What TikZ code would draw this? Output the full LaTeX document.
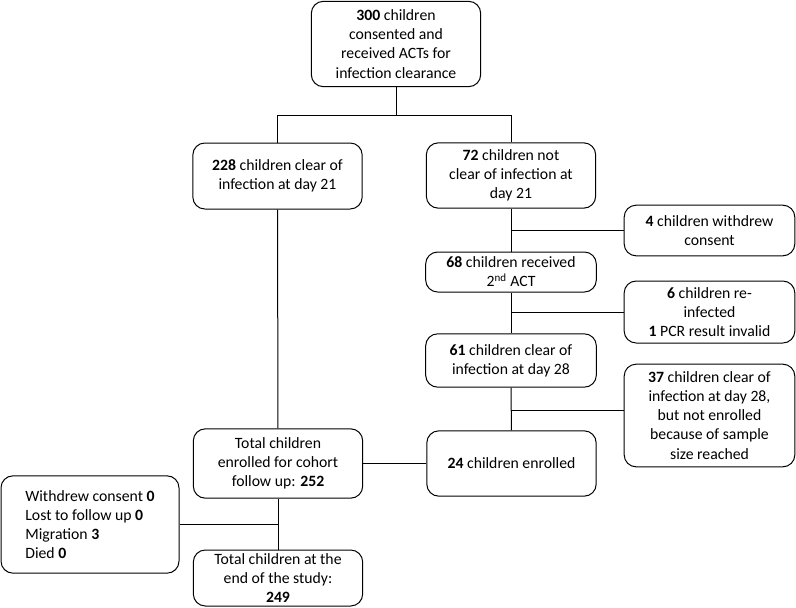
\documentclass[tikz,border=0pt]{standalone}
\usepackage{fontspec}
\setmainfont{Carlito}
\usetikzlibrary{positioning}

\begin{document}
\begin{tikzpicture}[
            x = 0.75pt, y = -0.75pt, % pixel grid of the reference
            line width = 0.75pt, % line style
            font = \fontsize{11.8}{14.3}\selectfont
        ]

        \tikzstyle{box}=[
            draw,
            rounded corners = 9pt,
            align = center,
            inner sep = 2pt,
            minimum width = 127pt
        ]

        \useasboundingbox (0,0) rectangle (796,607);

	% screening
        \node[box, minimum height = 64pt] (T) at (396,44)
            {\textbf{300} children\\consented and\\received ACTs for\\infection clearance};

	% day 21
        \node[box, minimum height = 49.5pt] (CL) at (277.5,176)
            {\textbf{228} children clear of\\infection at day 21};
        \node[box, minimum height = 49pt] (NC) at (511,175.5)
            {\textbf{72} children not\\clear of infection at\\day 21};

        \coordinate (J1) at (396,115);
        \draw (T) -- (J1);
        \draw (CL.north) |- (J1);
        \draw (NC.north) |- (J1);

	% second treatment
        \node[box, minimum width = 128pt, minimum height = 38pt] (WD) at (709.5,230.5)
            {\textbf{4} children withdrew\\consent};
        \node[box, minimum width = 128pt, minimum height = 30pt] (RC) at (511,272)
            {\textbf{68} children received\\2\textsuperscript{nd} ACT};

        \draw (NC) -- (RC);
        \coordinate (J2) at (NC |- WD);
        \draw (J2) -- (WD);

	% day 28
        \node[box, minimum width = 128pt, minimum height = 46.5pt] (RI) at (709.5,312)
            {\textbf{6} children re-\\infected\\\textbf{1} PCR result invalid};
        \node[box, minimum width = 128pt, minimum height = 40pt] (C28) at (511,360.5)
            {\textbf{61} children clear of\\infection at day 28};

        \draw (RC) -- (C28);
        \coordinate (J3) at (RC |- RI);
        \draw (J3) -- (RI);

	% enrolment
        \node[box, minimum width = 128pt, minimum height = 77pt] (NE) at (709.5,415.5)
            {\textbf{37} children clear of\\infection at day 28,\\but not enrolled\\because of sample\\size reached};
        \node[box, minimum height = 49pt] (EN) at (511.5,463.5)
            {\textbf{24} children enrolled};

        \draw (C28) -- (EN);
        \coordinate (J4) at (511,410);
        \draw (J4) -- (J4 -| NE.west);

	% cohort
        \node[box, minimum height = 52pt] (TOT) at (278,463.5)
            {Total children\\enrolled for cohort\\follow up: \textbf{252}};

        \draw (CL) -- (TOT);
        \draw (EN) -- (TOT);

	% follow up
        \node[box, align = left, minimum width = 133.5pt, minimum height = 73pt] (LF) at (90,524.5)
            {Withdrew consent \textbf{0}\\Lost to follow up \textbf{0}\\Migration \textbf{3}\\Died \textbf{0}};
        \node[box, minimum height = 42pt] (END) at (278,578)
            {Total children at the\\end of the study:\\\textbf{249}};

        \draw (TOT) -- (END);
        \coordinate (J5) at (TOT |- LF);
        \draw (J5) -- (LF);

\end{tikzpicture}
\end{document}
